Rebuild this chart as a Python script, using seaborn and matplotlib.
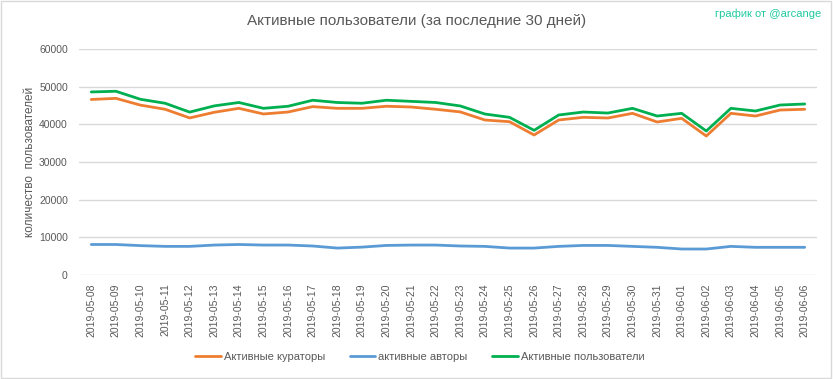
import numpy as np
import pandas as pd
import matplotlib
matplotlib.use("Agg")
import matplotlib.pyplot as plt
import seaborn as sns

# daily dates shown on the x axis
dates = pd.date_range("2019-05-08", "2019-06-06").strftime("%Y-%m-%d").tolist()

# values
curators = [46600, 46900, 45100, 44000, 41700, 43200, 44250, 42750, 43270, 44700,
            44250, 44250, 44800, 44600, 44000, 43300, 41150, 40700, 37170, 41150,
            41860, 41680, 42920, 40620, 41590, 36900, 42920, 42210, 43800, 44000]
authors = [8100, 8100, 7800, 7600, 7600, 7950, 8100, 7950, 7950, 7700,
           7150, 7400, 7850, 7950, 7950, 7700, 7600, 7150, 7150, 7600,
           7850, 7850, 7600, 7350, 6900, 6900, 7600, 7350, 7350, 7350]
users = [48600, 48780, 46650, 45600, 43250, 44900, 45800, 44250, 44800, 46400,
         45800, 45600, 46400, 46100, 45800, 44880, 42740, 41860, 38410, 42480,
         43270, 43000, 44250, 42210, 42920, 38230, 44250, 43540, 45130, 45400]

series_names = ["Активные кураторы", "активные авторы", "Активные пользователи"]
colors = ["#ED7D31", "#5B9BD5", "#00B050"]

df = pd.DataFrame({
    "date": dates * 3,
    "value": curators + authors + users,
    "series": np.repeat(series_names, len(dates)),
})
df["idx"] = np.tile(np.arange(len(dates)), 3)

sns.set_style("white")
plt.rcParams["font.family"] = ["Liberation Sans", "DejaVu Sans"]

fig = plt.figure(figsize=(8.33, 3.79), dpi=100)
ax = fig.add_axes([0.0948, 0.2744, 0.886, 0.5963])

sns.lineplot(data=df, x="idx", y="value", hue="series", hue_order=series_names,
             palette=colors, linewidth=2.0, ax=ax, legend=False)

ax.set_xlim(-0.5, len(dates) - 0.5)
ax.set_ylim(0, 60000)
ax.set_yticks(np.arange(0, 60001, 10000))
ax.set_xticks(np.arange(len(dates)))
ax.set_xticklabels(dates, rotation=90, fontsize=7.5, color="#595959")
ax.tick_params(axis="y", labelsize=7.5, labelcolor="#595959", length=0, pad=8)
ax.tick_params(axis="x", length=0, pad=6)
ax.grid(axis="y", color="#d9d9d9", linewidth=1)
for s in ax.spines.values():
    s.set_visible(False)
ax.set_xlabel("")
ax.set_ylabel("количество  пользователей", fontsize=8.5, color="#595959", labelpad=2)

fig.text(0.5, 0.944, "Активные пользователи (за последние 30 дней)",
         ha="center", va="center", fontsize=11, color="#595959")
fig.text(0.986, 0.963, "график от @arcange", ha="right", va="center",
         fontsize=8, color="#1fc9a0")

# legend below the plot
handles = [plt.Line2D([], [], color=c, linewidth=2) for c in colors]
fig.legend(handles, series_names, loc="center", bbox_to_anchor=(0.504, 0.058),
           ncol=3, frameon=False, fontsize=8, handlelength=2.3, handletextpad=0.3,
           columnspacing=2.2, labelcolor="#595959")

# thin frame around the whole chart
fig.patches.append(plt.Rectangle((0.001, 0.002), 0.997, 0.995, transform=fig.transFigure,
                                 fill=False, edgecolor="#d9d9d9", linewidth=1))

fig.savefig("out.png", dpi=100)
